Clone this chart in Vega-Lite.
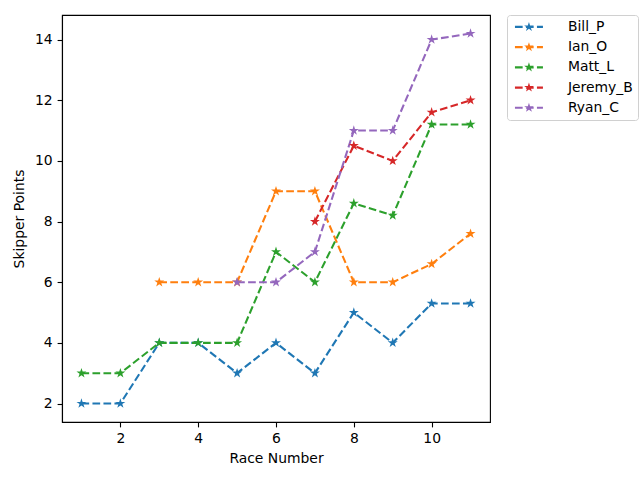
{
  "$schema": "https://vega.github.io/schema/vega-lite/v6.json",
  "autosize": "none",
  "width": 428,
  "height": 407,
  "padding": {"left": 62, "top": 15, "right": 150, "bottom": 58},
  "background": "white",
  "config": {
    "font": "DejaVu Sans",
    "view": {"stroke": "black", "strokeWidth": 1.1},
    "axis": {
      "grid": false,
      "domainColor": "black",
      "domainWidth": 1.1,
      "tickColor": "black",
      "tickSize": 4.9,
      "tickWidth": 1.1,
      "labelColor": "black",
      "labelFont": "DejaVu Sans",
      "labelFontSize": 13.9,
      "labelPadding": 4.9,
      "titleColor": "black",
      "titleFont": "DejaVu Sans",
      "titleFontSize": 13.9,
      "titleFontWeight": "normal"
    }
  },
  "data": {
    "values": [
      {"race": 1, "points": 2, "skipper": "Bill_P"},
      {"race": 2, "points": 2, "skipper": "Bill_P"},
      {"race": 3, "points": 4, "skipper": "Bill_P"},
      {"race": 4, "points": 4, "skipper": "Bill_P"},
      {"race": 5, "points": 3, "skipper": "Bill_P"},
      {"race": 6, "points": 4, "skipper": "Bill_P"},
      {"race": 7, "points": 3, "skipper": "Bill_P"},
      {"race": 8, "points": 5, "skipper": "Bill_P"},
      {"race": 9, "points": 4, "skipper": "Bill_P"},
      {"race": 10, "points": 5.3, "skipper": "Bill_P"},
      {"race": 11, "points": 5.3, "skipper": "Bill_P"},
      {"race": 3, "points": 6, "skipper": "Ian_O"},
      {"race": 4, "points": 6, "skipper": "Ian_O"},
      {"race": 5, "points": 6, "skipper": "Ian_O"},
      {"race": 6, "points": 9, "skipper": "Ian_O"},
      {"race": 7, "points": 9, "skipper": "Ian_O"},
      {"race": 8, "points": 6, "skipper": "Ian_O"},
      {"race": 9, "points": 6, "skipper": "Ian_O"},
      {"race": 10, "points": 6.6, "skipper": "Ian_O"},
      {"race": 11, "points": 7.6, "skipper": "Ian_O"},
      {"race": 1, "points": 3, "skipper": "Matt_L"},
      {"race": 2, "points": 3, "skipper": "Matt_L"},
      {"race": 3, "points": 4, "skipper": "Matt_L"},
      {"race": 4, "points": 4, "skipper": "Matt_L"},
      {"race": 5, "points": 4, "skipper": "Matt_L"},
      {"race": 6, "points": 7, "skipper": "Matt_L"},
      {"race": 7, "points": 6, "skipper": "Matt_L"},
      {"race": 8, "points": 8.6, "skipper": "Matt_L"},
      {"race": 9, "points": 8.2, "skipper": "Matt_L"},
      {"race": 10, "points": 11.2, "skipper": "Matt_L"},
      {"race": 11, "points": 11.2, "skipper": "Matt_L"},
      {"race": 7, "points": 8, "skipper": "Jeremy_B"},
      {"race": 8, "points": 10.5, "skipper": "Jeremy_B"},
      {"race": 9, "points": 10, "skipper": "Jeremy_B"},
      {"race": 10, "points": 11.6, "skipper": "Jeremy_B"},
      {"race": 11, "points": 12, "skipper": "Jeremy_B"},
      {"race": 5, "points": 6, "skipper": "Ryan_C"},
      {"race": 6, "points": 6, "skipper": "Ryan_C"},
      {"race": 7, "points": 7, "skipper": "Ryan_C"},
      {"race": 8, "points": 11, "skipper": "Ryan_C"},
      {"race": 9, "points": 11, "skipper": "Ryan_C"},
      {"race": 10, "points": 14, "skipper": "Ryan_C"},
      {"race": 11, "points": 14.2, "skipper": "Ryan_C"}
    ]
  },
  "encoding": {
    "x": {
      "field": "race", "type": "quantitative", "title": "Race Number",
      "scale": {"domain": [0.5, 11.5], "nice": false, "zero": false},
      "axis": {"values": [2, 4, 6, 8, 10], "titlePadding": 6}
    },
    "y": {
      "field": "points", "type": "quantitative", "title": "Skipper Points",
      "scale": {"domain": [1.39, 14.81], "nice": false, "zero": false},
      "axis": {"values": [2, 4, 6, 8, 10, 12, 14], "titlePadding": 8}
    },
    "color": {
      "field": "skipper", "type": "nominal", "title": null,
      "scale": {
        "domain": ["Bill_P", "Ian_O", "Matt_L", "Jeremy_B", "Ryan_C"],
        "range": ["#1f77b4", "#ff7f0e", "#2ca02c", "#d62728", "#9467bd"]
      },
      "legend": {
        "orient": "none",
        "legendX": 445,
        "legendY": 0,
        "padding": 5,
        "rowPadding": 5.2,
        "cornerRadius": 3,
        "strokeColor": "#d0d0d0",
        "fillColor": "white",
        "symbolType": "M-2.8,-0.22H-1.26V0.22H-2.8Z M-0.6,-0.22H0.94V0.22H-0.6Z M1.6,-0.22H2.8V0.22H1.6Z M0,-1L0.2245,-0.309L0.951,-0.309L0.363,0.118L0.588,0.809L0,0.382L-0.588,0.809L-0.363,0.118L-0.951,-0.309L-0.2245,-0.309Z",
        "symbolSize": 100,
        "symbolStrokeWidth": 0,
        "symbolOffset": 10,
        "labelOffset": 32,
        "labelFont": "DejaVu Sans",
        "labelFontSize": 13.9,
        "labelColor": "black",
        "encode": {
          "symbols": {
            "update": {
              "fill": {"scale": "color", "field": "value"},
              "stroke": {"value": "transparent"},
              "opacity": {"value": 1}
            }
          }
        }
      }
    }
  },
  "layer": [
    {
      "mark": {"type": "line", "strokeWidth": 2.08, "strokeDash": [7.7, 3.3]}
    },
    {
      "mark": {
        "type": "point",
        "filled": true,
        "opacity": 1,
        "size": 110,
        "shape": "M0,-1L0.2245,-0.309L0.951,-0.309L0.363,0.118L0.588,0.809L0,0.382L-0.588,0.809L-0.363,0.118L-0.951,-0.309L-0.2245,-0.309Z"
      }
    }
  ]
}
